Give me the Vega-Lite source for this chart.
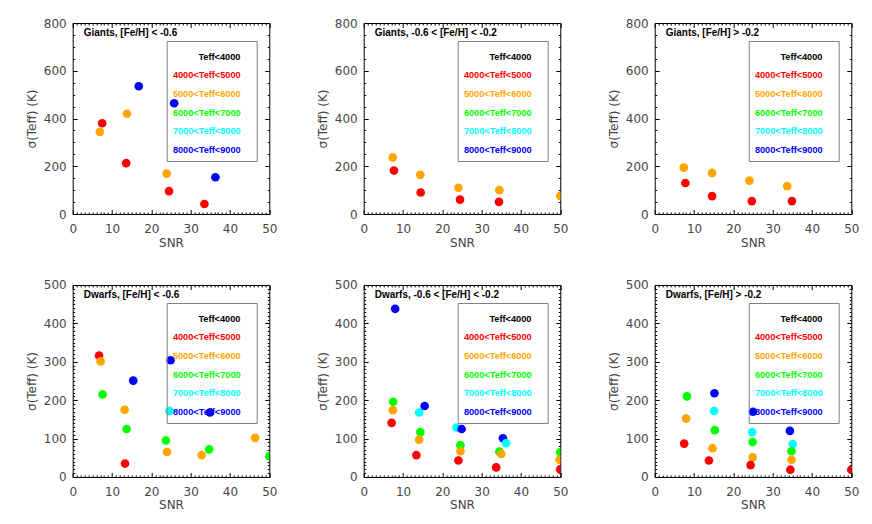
{
  "$schema": "https://vega.github.io/schema/vega-lite/v6.json",
  "padding": {"left": 24.7, "top": 16, "right": 5, "bottom": 5},
  "background": "white",
  "data": {
    "values": [
      {"panel": "g1", "snr": 16.8, "sig": 535, "cls": "8000<Teff<9000"},
      {"panel": "g1", "snr": 25.8, "sig": 464, "cls": "8000<Teff<9000"},
      {"panel": "g1", "snr": 36.3, "sig": 154, "cls": "8000<Teff<9000"},
      {"panel": "g1", "snr": 13.8, "sig": 420, "cls": "5000<Teff<6000"},
      {"panel": "g1", "snr": 7.5, "sig": 380, "cls": "4000<Teff<5000"},
      {"panel": "g1", "snr": 6.9, "sig": 344, "cls": "5000<Teff<6000"},
      {"panel": "g1", "snr": 13.6, "sig": 213, "cls": "4000<Teff<5000"},
      {"panel": "g1", "snr": 23.9, "sig": 169, "cls": "5000<Teff<6000"},
      {"panel": "g1", "snr": 24.5, "sig": 96, "cls": "4000<Teff<5000"},
      {"panel": "g1", "snr": 33.5, "sig": 42, "cls": "4000<Teff<5000"},

      {"panel": "g2", "snr": 7.4, "sig": 237, "cls": "5000<Teff<6000"},
      {"panel": "g2", "snr": 7.7, "sig": 182, "cls": "4000<Teff<5000"},
      {"panel": "g2", "snr": 14.4, "sig": 164, "cls": "5000<Teff<6000"},
      {"panel": "g2", "snr": 14.5, "sig": 90, "cls": "4000<Teff<5000"},
      {"panel": "g2", "snr": 24.1, "sig": 110, "cls": "5000<Teff<6000"},
      {"panel": "g2", "snr": 24.5, "sig": 60, "cls": "4000<Teff<5000"},
      {"panel": "g2", "snr": 34.5, "sig": 100, "cls": "5000<Teff<6000"},
      {"panel": "g2", "snr": 34.4, "sig": 51, "cls": "4000<Teff<5000"},
      {"panel": "g2", "snr": 50, "sig": 76, "cls": "5000<Teff<6000"},

      {"panel": "g3", "snr": 7.4, "sig": 194, "cls": "5000<Teff<6000"},
      {"panel": "g3", "snr": 7.8, "sig": 130, "cls": "4000<Teff<5000"},
      {"panel": "g3", "snr": 14.6, "sig": 172, "cls": "5000<Teff<6000"},
      {"panel": "g3", "snr": 14.6, "sig": 75, "cls": "4000<Teff<5000"},
      {"panel": "g3", "snr": 24.1, "sig": 140, "cls": "5000<Teff<6000"},
      {"panel": "g3", "snr": 24.7, "sig": 54, "cls": "4000<Teff<5000"},
      {"panel": "g3", "snr": 33.7, "sig": 117, "cls": "5000<Teff<6000"},
      {"panel": "g3", "snr": 34.9, "sig": 54, "cls": "4000<Teff<5000"},

      {"panel": "d1", "snr": 6.7, "sig": 316, "cls": "4000<Teff<5000"},
      {"panel": "d1", "snr": 7.1, "sig": 301, "cls": "5000<Teff<6000"},
      {"panel": "d1", "snr": 7.6, "sig": 215, "cls": "6000<Teff<7000"},
      {"panel": "d1", "snr": 15.4, "sig": 251, "cls": "8000<Teff<9000"},
      {"panel": "d1", "snr": 24.9, "sig": 304, "cls": "8000<Teff<9000"},
      {"panel": "d1", "snr": 13.2, "sig": 175, "cls": "5000<Teff<6000"},
      {"panel": "d1", "snr": 24.6, "sig": 172, "cls": "7000<Teff<8000"},
      {"panel": "d1", "snr": 34.9, "sig": 168, "cls": "8000<Teff<9000"},
      {"panel": "d1", "snr": 13.7, "sig": 125, "cls": "6000<Teff<7000"},
      {"panel": "d1", "snr": 23.7, "sig": 95, "cls": "6000<Teff<7000"},
      {"panel": "d1", "snr": 24.0, "sig": 65, "cls": "5000<Teff<6000"},
      {"panel": "d1", "snr": 32.8, "sig": 57, "cls": "5000<Teff<6000"},
      {"panel": "d1", "snr": 34.7, "sig": 72, "cls": "6000<Teff<7000"},
      {"panel": "d1", "snr": 46.4, "sig": 102, "cls": "5000<Teff<6000"},
      {"panel": "d1", "snr": 13.3, "sig": 35, "cls": "4000<Teff<5000"},
      {"panel": "d1", "snr": 50, "sig": 54, "cls": "6000<Teff<7000"},

      {"panel": "d2", "snr": 8.0, "sig": 438, "cls": "8000<Teff<9000"},
      {"panel": "d2", "snr": 7.5, "sig": 196, "cls": "6000<Teff<7000"},
      {"panel": "d2", "snr": 7.4, "sig": 174, "cls": "5000<Teff<6000"},
      {"panel": "d2", "snr": 7.1, "sig": 141, "cls": "4000<Teff<5000"},
      {"panel": "d2", "snr": 14.1, "sig": 168, "cls": "7000<Teff<8000"},
      {"panel": "d2", "snr": 15.5, "sig": 185, "cls": "8000<Teff<9000"},
      {"panel": "d2", "snr": 14.4, "sig": 117, "cls": "6000<Teff<7000"},
      {"panel": "d2", "snr": 14.1, "sig": 97, "cls": "5000<Teff<6000"},
      {"panel": "d2", "snr": 13.4, "sig": 57, "cls": "4000<Teff<5000"},
      {"panel": "d2", "snr": 23.6, "sig": 129, "cls": "7000<Teff<8000"},
      {"panel": "d2", "snr": 24.9, "sig": 125, "cls": "8000<Teff<9000"},
      {"panel": "d2", "snr": 24.6, "sig": 83, "cls": "6000<Teff<7000"},
      {"panel": "d2", "snr": 24.6, "sig": 67, "cls": "5000<Teff<6000"},
      {"panel": "d2", "snr": 24.1, "sig": 43, "cls": "4000<Teff<5000"},
      {"panel": "d2", "snr": 35.4, "sig": 101, "cls": "8000<Teff<9000"},
      {"panel": "d2", "snr": 36.2, "sig": 88, "cls": "7000<Teff<8000"},
      {"panel": "d2", "snr": 34.5, "sig": 66, "cls": "6000<Teff<7000"},
      {"panel": "d2", "snr": 35.0, "sig": 60, "cls": "5000<Teff<6000"},
      {"panel": "d2", "snr": 33.7, "sig": 25, "cls": "4000<Teff<5000"},
      {"panel": "d2", "snr": 50, "sig": 64, "cls": "6000<Teff<7000"},
      {"panel": "d2", "snr": 49.8, "sig": 45, "cls": "5000<Teff<6000"},
      {"panel": "d2", "snr": 50, "sig": 20, "cls": "4000<Teff<5000"},

      {"panel": "d3", "snr": 8.2, "sig": 210, "cls": "6000<Teff<7000"},
      {"panel": "d3", "snr": 8.0, "sig": 152, "cls": "5000<Teff<6000"},
      {"panel": "d3", "snr": 7.5, "sig": 87, "cls": "4000<Teff<5000"},
      {"panel": "d3", "snr": 15.2, "sig": 218, "cls": "8000<Teff<9000"},
      {"panel": "d3", "snr": 15.1, "sig": 172, "cls": "7000<Teff<8000"},
      {"panel": "d3", "snr": 15.3, "sig": 122, "cls": "6000<Teff<7000"},
      {"panel": "d3", "snr": 14.7, "sig": 75, "cls": "5000<Teff<6000"},
      {"panel": "d3", "snr": 13.8, "sig": 43, "cls": "4000<Teff<5000"},
      {"panel": "d3", "snr": 25.0, "sig": 170, "cls": "8000<Teff<9000"},
      {"panel": "d3", "snr": 24.8, "sig": 117, "cls": "7000<Teff<8000"},
      {"panel": "d3", "snr": 24.9, "sig": 91, "cls": "6000<Teff<7000"},
      {"panel": "d3", "snr": 24.9, "sig": 51, "cls": "5000<Teff<6000"},
      {"panel": "d3", "snr": 24.4, "sig": 31, "cls": "4000<Teff<5000"},
      {"panel": "d3", "snr": 34.4, "sig": 120, "cls": "8000<Teff<9000"},
      {"panel": "d3", "snr": 35.1, "sig": 86, "cls": "7000<Teff<8000"},
      {"panel": "d3", "snr": 34.8, "sig": 67, "cls": "6000<Teff<7000"},
      {"panel": "d3", "snr": 34.8, "sig": 45, "cls": "5000<Teff<6000"},
      {"panel": "d3", "snr": 34.5, "sig": 19, "cls": "4000<Teff<5000"},
      {"panel": "d3", "snr": 50, "sig": 19, "cls": "4000<Teff<5000"}
    ]
  },
  "config": {
    "view": {"stroke": "black", "strokeWidth": 1},
    "axis": {
      "domain": false,
      "grid": false,
      "tickColor": "black",
      "tickWidth": 1,
      "labelFont": "DejaVu Sans",
      "labelFontSize": 12,
      "labelColor": "#444",
      "labelOverlap": false,
      "labelFlush": false,
      "titleFont": "DejaVu Sans",
      "titleFontSize": 12,
      "titleFontWeight": "normal",
      "titleColor": "#444"
    },
    "legend": {
      "orient": "none",
      "legendX": 94,
      "legendY": 18,
      "zindex": -1,
      "labelAlign": "left",
      "labelOffset": -8,
      "symbolOffset": 0,
      "symbolSize": 1,
      "symbolOpacity": 0,
      "symbolStrokeWidth": 0,
      "strokeColor": "#808080",
      "padding": 5,
      "rowPadding": 8.7,
      "titleFontSize": 1,
      "titlePadding": 5,
      "labelFont": "Liberation Sans",
      "labelFontSize": 9.2,
      "labelFontWeight": "bold",
      "labelLimit": 200
    },
    "title": {
      "anchor": "start",
      "frame": "group",
      "offset": -21,
      "dx": 11,
      "font": "Liberation Sans",
      "fontSize": 10,
      "fontWeight": "bold",
      "color": "black"
    },
    "circle": {"size": 75, "opacity": 1}
  },
  "resolve": {"scale": {"color": "independent"}, "legend": {"color": "independent"}},
  "spacing": 29,
  "vconcat": [
    {
      "hconcat": [
        {
          "width": 196.6, "height": 191,
          "title": "Giants, [Fe/H] < -0.6",
          "transform": [{"filter": "datum.panel == 'g1'"}],
          "resolve": {"axis": {"x": "independent", "y": "independent"}},
          "layer": [
            {
              "mark": {"type": "circle", "clip": true},
              "encoding": {
                "x": {"field": "snr", "type": "quantitative", "scale": {"domain": [0, 50]},
                  "axis": {"orient": "bottom", "title": "SNR", "titlePadding": 0, "labelPadding": 14,
                    "values": [0,1,2,3,4,5,6,7,8,9,10,11,12,13,14,15,16,17,18,19,20,21,22,23,24,25,26,27,28,29,30,31,32,33,34,35,36,37,38,39,40,41,42,43,44,45,46,47,48,49,50],
                    "labelExpr": "datum.value % 10 == 0 ? datum.label : ''",
                    "tickSize": {"condition": {"test": "datum.value % 10 == 0", "value": -4.5}, "value": -2}}},
                "y": {"field": "sig", "type": "quantitative", "scale": {"domain": [0, 800]},
                  "axis": {"orient": "left", "title": "σ(Teff)  (K)", "titlePadding": 5, "labelPadding": 11,
                    "values": [0,50,100,150,200,250,300,350,400,450,500,550,600,650,700,750,800],
                    "labelExpr": "datum.value % 200 == 0 ? datum.label : ''",
                    "tickSize": {"condition": {"test": "datum.value % 200 == 0", "value": -4.5}, "value": -2}}},
                "color": {"field": "cls", "type": "nominal",
                  "scale": {"domain": ["Teff<4000", "4000<Teff<5000", "5000<Teff<6000", "6000<Teff<7000", "7000<Teff<8000", "8000<Teff<9000"],
                    "range": ["#000000", "#ff0000", "#ffa500", "#00ff00", "#00ffff", "#0000ff"]},
                  "legend": {"title": " ",
                    "labelExpr": "(length(datum.label) < 12 ? '\u200b\u00a0\u00a0\u00a0\u00a0\u00a0\u00a0\u00a0\u00a0\u00a0\u00a0' : '') + datum.label + '\u00a0\u00a0\u00a0\u00a0\u200b'",
                    "labelColor": {"expr": "datum.value == 'Teff<4000' ? '#000000' : datum.value == '4000<Teff<5000' ? '#ff0000' : datum.value == '5000<Teff<6000' ? '#ffa500' : datum.value == '6000<Teff<7000' ? '#00ff00' : datum.value == '7000<Teff<8000' ? '#00ffff' : '#0000ff'"}}}
              }
            },
            {
              "mark": {"type": "circle", "clip": true, "opacity": 0},
              "encoding": {
                "x": {"field": "snr", "type": "quantitative",
                  "axis": {"orient": "top", "title": null, "labels": false,
                    "values": [0,1,2,3,4,5,6,7,8,9,10,11,12,13,14,15,16,17,18,19,20,21,22,23,24,25,26,27,28,29,30,31,32,33,34,35,36,37,38,39,40,41,42,43,44,45,46,47,48,49,50],
                    "tickSize": {"condition": {"test": "datum.value % 10 == 0", "value": -4.5}, "value": -2}}},
                "y": {"field": "sig", "type": "quantitative",
                  "axis": {"orient": "right", "title": null, "labels": false,
                    "values": [0,50,100,150,200,250,300,350,400,450,500,550,600,650,700,750,800],
                    "tickSize": {"condition": {"test": "datum.value % 200 == 0", "value": -4.5}, "value": -2}}}
              }
            }
          ]
        },
        {
          "width": 196.6, "height": 191,
          "title": "Giants, -0.6 < [Fe/H] < -0.2",
          "transform": [{"filter": "datum.panel == 'g2'"}],
          "resolve": {"axis": {"x": "independent", "y": "independent"}},
          "layer": [
            {
              "mark": {"type": "circle", "clip": true},
              "encoding": {
                "x": {"field": "snr", "type": "quantitative", "scale": {"domain": [0, 50]},
                  "axis": {"orient": "bottom", "title": "SNR", "titlePadding": 0, "labelPadding": 14,
                    "values": [0,1,2,3,4,5,6,7,8,9,10,11,12,13,14,15,16,17,18,19,20,21,22,23,24,25,26,27,28,29,30,31,32,33,34,35,36,37,38,39,40,41,42,43,44,45,46,47,48,49,50],
                    "labelExpr": "datum.value % 10 == 0 ? datum.label : ''",
                    "tickSize": {"condition": {"test": "datum.value % 10 == 0", "value": -4.5}, "value": -2}}},
                "y": {"field": "sig", "type": "quantitative", "scale": {"domain": [0, 800]},
                  "axis": {"orient": "left", "title": "σ(Teff)  (K)", "titlePadding": 5, "labelPadding": 11,
                    "values": [0,50,100,150,200,250,300,350,400,450,500,550,600,650,700,750,800],
                    "labelExpr": "datum.value % 200 == 0 ? datum.label : ''",
                    "tickSize": {"condition": {"test": "datum.value % 200 == 0", "value": -4.5}, "value": -2}}},
                "color": {"field": "cls", "type": "nominal",
                  "scale": {"domain": ["Teff<4000", "4000<Teff<5000", "5000<Teff<6000", "6000<Teff<7000", "7000<Teff<8000", "8000<Teff<9000"],
                    "range": ["#000000", "#ff0000", "#ffa500", "#00ff00", "#00ffff", "#0000ff"]},
                  "legend": {"title": " ",
                    "labelExpr": "(length(datum.label) < 12 ? '\u200b\u00a0\u00a0\u00a0\u00a0\u00a0\u00a0\u00a0\u00a0\u00a0\u00a0' : '') + datum.label + '\u00a0\u00a0\u00a0\u00a0\u200b'",
                    "labelColor": {"expr": "datum.value == 'Teff<4000' ? '#000000' : datum.value == '4000<Teff<5000' ? '#ff0000' : datum.value == '5000<Teff<6000' ? '#ffa500' : datum.value == '6000<Teff<7000' ? '#00ff00' : datum.value == '7000<Teff<8000' ? '#00ffff' : '#0000ff'"}}}
              }
            },
            {
              "mark": {"type": "circle", "clip": true, "opacity": 0},
              "encoding": {
                "x": {"field": "snr", "type": "quantitative",
                  "axis": {"orient": "top", "title": null, "labels": false,
                    "values": [0,1,2,3,4,5,6,7,8,9,10,11,12,13,14,15,16,17,18,19,20,21,22,23,24,25,26,27,28,29,30,31,32,33,34,35,36,37,38,39,40,41,42,43,44,45,46,47,48,49,50],
                    "tickSize": {"condition": {"test": "datum.value % 10 == 0", "value": -4.5}, "value": -2}}},
                "y": {"field": "sig", "type": "quantitative",
                  "axis": {"orient": "right", "title": null, "labels": false,
                    "values": [0,50,100,150,200,250,300,350,400,450,500,550,600,650,700,750,800],
                    "tickSize": {"condition": {"test": "datum.value % 200 == 0", "value": -4.5}, "value": -2}}}
              }
            }
          ]
        },
        {
          "width": 196.6, "height": 191,
          "title": "Giants, [Fe/H] > -0.2",
          "transform": [{"filter": "datum.panel == 'g3'"}],
          "resolve": {"axis": {"x": "independent", "y": "independent"}},
          "layer": [
            {
              "mark": {"type": "circle", "clip": true},
              "encoding": {
                "x": {"field": "snr", "type": "quantitative", "scale": {"domain": [0, 50]},
                  "axis": {"orient": "bottom", "title": "SNR", "titlePadding": 0, "labelPadding": 14,
                    "values": [0,1,2,3,4,5,6,7,8,9,10,11,12,13,14,15,16,17,18,19,20,21,22,23,24,25,26,27,28,29,30,31,32,33,34,35,36,37,38,39,40,41,42,43,44,45,46,47,48,49,50],
                    "labelExpr": "datum.value % 10 == 0 ? datum.label : ''",
                    "tickSize": {"condition": {"test": "datum.value % 10 == 0", "value": -4.5}, "value": -2}}},
                "y": {"field": "sig", "type": "quantitative", "scale": {"domain": [0, 800]},
                  "axis": {"orient": "left", "title": "σ(Teff)  (K)", "titlePadding": 5, "labelPadding": 11,
                    "values": [0,50,100,150,200,250,300,350,400,450,500,550,600,650,700,750,800],
                    "labelExpr": "datum.value % 200 == 0 ? datum.label : ''",
                    "tickSize": {"condition": {"test": "datum.value % 200 == 0", "value": -4.5}, "value": -2}}},
                "color": {"field": "cls", "type": "nominal",
                  "scale": {"domain": ["Teff<4000", "4000<Teff<5000", "5000<Teff<6000", "6000<Teff<7000", "7000<Teff<8000", "8000<Teff<9000"],
                    "range": ["#000000", "#ff0000", "#ffa500", "#00ff00", "#00ffff", "#0000ff"]},
                  "legend": {"title": " ",
                    "labelExpr": "(length(datum.label) < 12 ? '\u200b\u00a0\u00a0\u00a0\u00a0\u00a0\u00a0\u00a0\u00a0\u00a0\u00a0' : '') + datum.label + '\u00a0\u00a0\u00a0\u00a0\u200b'",
                    "labelColor": {"expr": "datum.value == 'Teff<4000' ? '#000000' : datum.value == '4000<Teff<5000' ? '#ff0000' : datum.value == '5000<Teff<6000' ? '#ffa500' : datum.value == '6000<Teff<7000' ? '#00ff00' : datum.value == '7000<Teff<8000' ? '#00ffff' : '#0000ff'"}}}
              }
            },
            {
              "mark": {"type": "circle", "clip": true, "opacity": 0},
              "encoding": {
                "x": {"field": "snr", "type": "quantitative",
                  "axis": {"orient": "top", "title": null, "labels": false,
                    "values": [0,1,2,3,4,5,6,7,8,9,10,11,12,13,14,15,16,17,18,19,20,21,22,23,24,25,26,27,28,29,30,31,32,33,34,35,36,37,38,39,40,41,42,43,44,45,46,47,48,49,50],
                    "tickSize": {"condition": {"test": "datum.value % 10 == 0", "value": -4.5}, "value": -2}}},
                "y": {"field": "sig", "type": "quantitative",
                  "axis": {"orient": "right", "title": null, "labels": false,
                    "values": [0,50,100,150,200,250,300,350,400,450,500,550,600,650,700,750,800],
                    "tickSize": {"condition": {"test": "datum.value % 200 == 0", "value": -4.5}, "value": -2}}}
              }
            }
          ]
        }
      ],
      "spacing": 94,
      "bounds": "flush",
      "resolve": {"scale": {"color": "independent"}, "legend": {"color": "independent"}}
    },
    {
      "hconcat": [
        {
          "width": 196.6, "height": 192,
          "title": "Dwarfs, [Fe/H] < -0.6",
          "transform": [{"filter": "datum.panel == 'd1'"}],
          "resolve": {"axis": {"x": "independent", "y": "independent"}},
          "layer": [
            {
              "mark": {"type": "circle", "clip": true},
              "encoding": {
                "x": {"field": "snr", "type": "quantitative", "scale": {"domain": [0, 50]},
                  "axis": {"orient": "bottom", "title": "SNR", "titlePadding": 0, "labelPadding": 14,
                    "values": [0,1,2,3,4,5,6,7,8,9,10,11,12,13,14,15,16,17,18,19,20,21,22,23,24,25,26,27,28,29,30,31,32,33,34,35,36,37,38,39,40,41,42,43,44,45,46,47,48,49,50],
                    "labelExpr": "datum.value % 10 == 0 ? datum.label : ''",
                    "tickSize": {"condition": {"test": "datum.value % 10 == 0", "value": -4.5}, "value": -2}}},
                "y": {"field": "sig", "type": "quantitative", "scale": {"domain": [0, 500]},
                  "axis": {"orient": "left", "title": "σ(Teff)  (K)", "titlePadding": 5, "labelPadding": 11,
                    "values": [0,10,20,30,40,50,60,70,80,90,100,110,120,130,140,150,160,170,180,190,200,210,220,230,240,250,260,270,280,290,300,310,320,330,340,350,360,370,380,390,400,410,420,430,440,450,460,470,480,490,500],
                    "labelExpr": "datum.value % 100 == 0 ? datum.label : ''",
                    "tickSize": {"condition": {"test": "datum.value % 100 == 0", "value": -4.5}, "value": -2}}},
                "color": {"field": "cls", "type": "nominal",
                  "scale": {"domain": ["Teff<4000", "4000<Teff<5000", "5000<Teff<6000", "6000<Teff<7000", "7000<Teff<8000", "8000<Teff<9000"],
                    "range": ["#000000", "#ff0000", "#ffa500", "#00ff00", "#00ffff", "#0000ff"]},
                  "legend": {"title": " ",
                    "labelExpr": "(length(datum.label) < 12 ? '\u200b\u00a0\u00a0\u00a0\u00a0\u00a0\u00a0\u00a0\u00a0\u00a0\u00a0' : '') + datum.label + '\u00a0\u00a0\u00a0\u00a0\u200b'",
                    "labelColor": {"expr": "datum.value == 'Teff<4000' ? '#000000' : datum.value == '4000<Teff<5000' ? '#ff0000' : datum.value == '5000<Teff<6000' ? '#ffa500' : datum.value == '6000<Teff<7000' ? '#00ff00' : datum.value == '7000<Teff<8000' ? '#00ffff' : '#0000ff'"}}}
              }
            },
            {
              "mark": {"type": "circle", "clip": true, "opacity": 0},
              "encoding": {
                "x": {"field": "snr", "type": "quantitative",
                  "axis": {"orient": "top", "title": null, "labels": false,
                    "values": [0,1,2,3,4,5,6,7,8,9,10,11,12,13,14,15,16,17,18,19,20,21,22,23,24,25,26,27,28,29,30,31,32,33,34,35,36,37,38,39,40,41,42,43,44,45,46,47,48,49,50],
                    "tickSize": {"condition": {"test": "datum.value % 10 == 0", "value": -4.5}, "value": -2}}},
                "y": {"field": "sig", "type": "quantitative",
                  "axis": {"orient": "right", "title": null, "labels": false,
                    "values": [0,10,20,30,40,50,60,70,80,90,100,110,120,130,140,150,160,170,180,190,200,210,220,230,240,250,260,270,280,290,300,310,320,330,340,350,360,370,380,390,400,410,420,430,440,450,460,470,480,490,500],
                    "tickSize": {"condition": {"test": "datum.value % 100 == 0", "value": -4.5}, "value": -2}}}
              }
            }
          ]
        },
        {
          "width": 196.6, "height": 192,
          "title": "Dwarfs, -0.6 < [Fe/H] < -0.2",
          "transform": [{"filter": "datum.panel == 'd2'"}],
          "resolve": {"axis": {"x": "independent", "y": "independent"}},
          "layer": [
            {
              "mark": {"type": "circle", "clip": true},
              "encoding": {
                "x": {"field": "snr", "type": "quantitative", "scale": {"domain": [0, 50]},
                  "axis": {"orient": "bottom", "title": "SNR", "titlePadding": 0, "labelPadding": 14,
                    "values": [0,1,2,3,4,5,6,7,8,9,10,11,12,13,14,15,16,17,18,19,20,21,22,23,24,25,26,27,28,29,30,31,32,33,34,35,36,37,38,39,40,41,42,43,44,45,46,47,48,49,50],
                    "labelExpr": "datum.value % 10 == 0 ? datum.label : ''",
                    "tickSize": {"condition": {"test": "datum.value % 10 == 0", "value": -4.5}, "value": -2}}},
                "y": {"field": "sig", "type": "quantitative", "scale": {"domain": [0, 500]},
                  "axis": {"orient": "left", "title": "σ(Teff)  (K)", "titlePadding": 5, "labelPadding": 11,
                    "values": [0,10,20,30,40,50,60,70,80,90,100,110,120,130,140,150,160,170,180,190,200,210,220,230,240,250,260,270,280,290,300,310,320,330,340,350,360,370,380,390,400,410,420,430,440,450,460,470,480,490,500],
                    "labelExpr": "datum.value % 100 == 0 ? datum.label : ''",
                    "tickSize": {"condition": {"test": "datum.value % 100 == 0", "value": -4.5}, "value": -2}}},
                "color": {"field": "cls", "type": "nominal",
                  "scale": {"domain": ["Teff<4000", "4000<Teff<5000", "5000<Teff<6000", "6000<Teff<7000", "7000<Teff<8000", "8000<Teff<9000"],
                    "range": ["#000000", "#ff0000", "#ffa500", "#00ff00", "#00ffff", "#0000ff"]},
                  "legend": {"title": " ",
                    "labelExpr": "(length(datum.label) < 12 ? '\u200b\u00a0\u00a0\u00a0\u00a0\u00a0\u00a0\u00a0\u00a0\u00a0\u00a0' : '') + datum.label + '\u00a0\u00a0\u00a0\u00a0\u200b'",
                    "labelColor": {"expr": "datum.value == 'Teff<4000' ? '#000000' : datum.value == '4000<Teff<5000' ? '#ff0000' : datum.value == '5000<Teff<6000' ? '#ffa500' : datum.value == '6000<Teff<7000' ? '#00ff00' : datum.value == '7000<Teff<8000' ? '#00ffff' : '#0000ff'"}}}
              }
            },
            {
              "mark": {"type": "circle", "clip": true, "opacity": 0},
              "encoding": {
                "x": {"field": "snr", "type": "quantitative",
                  "axis": {"orient": "top", "title": null, "labels": false,
                    "values": [0,1,2,3,4,5,6,7,8,9,10,11,12,13,14,15,16,17,18,19,20,21,22,23,24,25,26,27,28,29,30,31,32,33,34,35,36,37,38,39,40,41,42,43,44,45,46,47,48,49,50],
                    "tickSize": {"condition": {"test": "datum.value % 10 == 0", "value": -4.5}, "value": -2}}},
                "y": {"field": "sig", "type": "quantitative",
                  "axis": {"orient": "right", "title": null, "labels": false,
                    "values": [0,10,20,30,40,50,60,70,80,90,100,110,120,130,140,150,160,170,180,190,200,210,220,230,240,250,260,270,280,290,300,310,320,330,340,350,360,370,380,390,400,410,420,430,440,450,460,470,480,490,500],
                    "tickSize": {"condition": {"test": "datum.value % 100 == 0", "value": -4.5}, "value": -2}}}
              }
            }
          ]
        },
        {
          "width": 196.6, "height": 192,
          "title": "Dwarfs, [Fe/H] > -0.2",
          "transform": [{"filter": "datum.panel == 'd3'"}],
          "resolve": {"axis": {"x": "independent", "y": "independent"}},
          "layer": [
            {
              "mark": {"type": "circle", "clip": true},
              "encoding": {
                "x": {"field": "snr", "type": "quantitative", "scale": {"domain": [0, 50]},
                  "axis": {"orient": "bottom", "title": "SNR", "titlePadding": 0, "labelPadding": 14,
                    "values": [0,1,2,3,4,5,6,7,8,9,10,11,12,13,14,15,16,17,18,19,20,21,22,23,24,25,26,27,28,29,30,31,32,33,34,35,36,37,38,39,40,41,42,43,44,45,46,47,48,49,50],
                    "labelExpr": "datum.value % 10 == 0 ? datum.label : ''",
                    "tickSize": {"condition": {"test": "datum.value % 10 == 0", "value": -4.5}, "value": -2}}},
                "y": {"field": "sig", "type": "quantitative", "scale": {"domain": [0, 500]},
                  "axis": {"orient": "left", "title": "σ(Teff)  (K)", "titlePadding": 5, "labelPadding": 11,
                    "values": [0,10,20,30,40,50,60,70,80,90,100,110,120,130,140,150,160,170,180,190,200,210,220,230,240,250,260,270,280,290,300,310,320,330,340,350,360,370,380,390,400,410,420,430,440,450,460,470,480,490,500],
                    "labelExpr": "datum.value % 100 == 0 ? datum.label : ''",
                    "tickSize": {"condition": {"test": "datum.value % 100 == 0", "value": -4.5}, "value": -2}}},
                "color": {"field": "cls", "type": "nominal",
                  "scale": {"domain": ["Teff<4000", "4000<Teff<5000", "5000<Teff<6000", "6000<Teff<7000", "7000<Teff<8000", "8000<Teff<9000"],
                    "range": ["#000000", "#ff0000", "#ffa500", "#00ff00", "#00ffff", "#0000ff"]},
                  "legend": {"title": " ",
                    "labelExpr": "(length(datum.label) < 12 ? '\u200b\u00a0\u00a0\u00a0\u00a0\u00a0\u00a0\u00a0\u00a0\u00a0\u00a0' : '') + datum.label + '\u00a0\u00a0\u00a0\u00a0\u200b'",
                    "labelColor": {"expr": "datum.value == 'Teff<4000' ? '#000000' : datum.value == '4000<Teff<5000' ? '#ff0000' : datum.value == '5000<Teff<6000' ? '#ffa500' : datum.value == '6000<Teff<7000' ? '#00ff00' : datum.value == '7000<Teff<8000' ? '#00ffff' : '#0000ff'"}}}
              }
            },
            {
              "mark": {"type": "circle", "clip": true, "opacity": 0},
              "encoding": {
                "x": {"field": "snr", "type": "quantitative",
                  "axis": {"orient": "top", "title": null, "labels": false,
                    "values": [0,1,2,3,4,5,6,7,8,9,10,11,12,13,14,15,16,17,18,19,20,21,22,23,24,25,26,27,28,29,30,31,32,33,34,35,36,37,38,39,40,41,42,43,44,45,46,47,48,49,50],
                    "tickSize": {"condition": {"test": "datum.value % 10 == 0", "value": -4.5}, "value": -2}}},
                "y": {"field": "sig", "type": "quantitative",
                  "axis": {"orient": "right", "title": null, "labels": false,
                    "values": [0,10,20,30,40,50,60,70,80,90,100,110,120,130,140,150,160,170,180,190,200,210,220,230,240,250,260,270,280,290,300,310,320,330,340,350,360,370,380,390,400,410,420,430,440,450,460,470,480,490,500],
                    "tickSize": {"condition": {"test": "datum.value % 100 == 0", "value": -4.5}, "value": -2}}}
              }
            }
          ]
        }
      ],
      "spacing": 94,
      "bounds": "flush",
      "resolve": {"scale": {"color": "independent"}, "legend": {"color": "independent"}}
    }
  ]
}
